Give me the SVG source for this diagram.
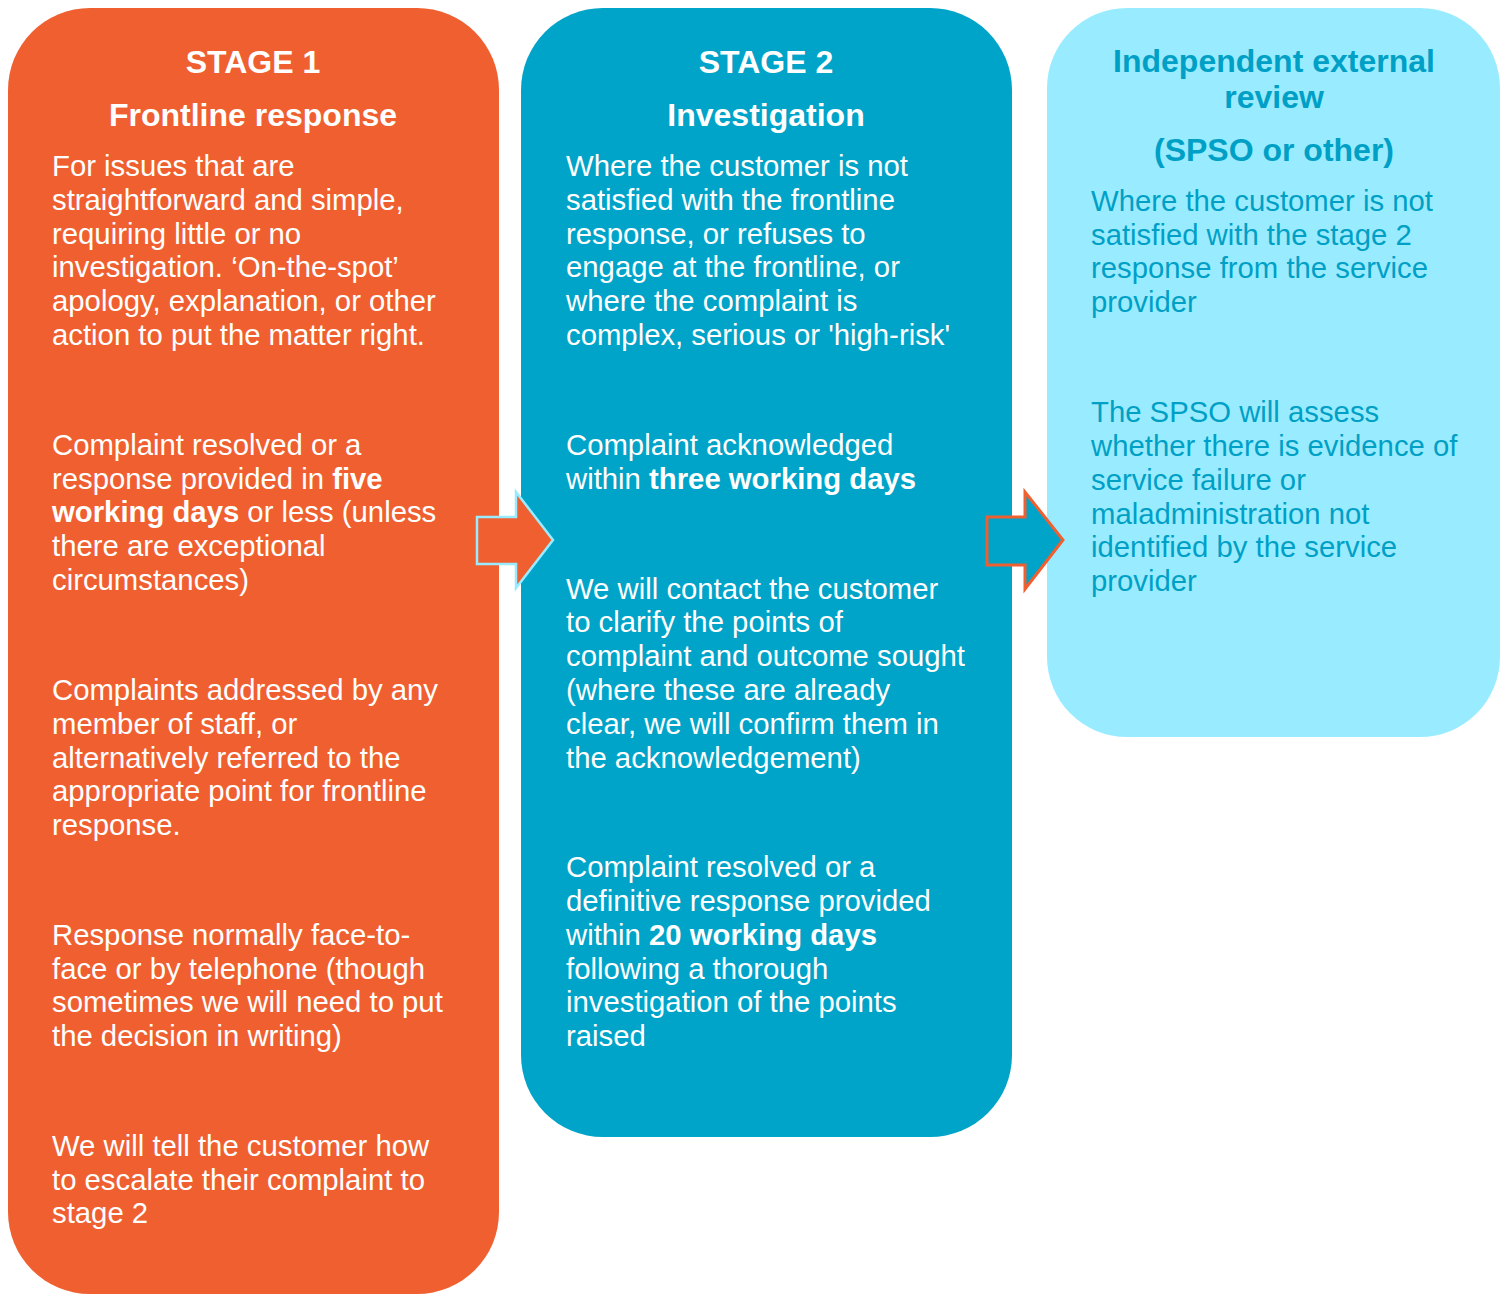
<svg xmlns="http://www.w3.org/2000/svg" width="1500" height="1294" viewBox="0 0 1500 1294">
<style>
.t{font-family:"Liberation Sans",Arial,sans-serif;font-size:29.3px;fill:#ffffff}
.h{font-family:"Liberation Sans",Arial,sans-serif;font-size:32px;font-weight:bold;fill:#ffffff;text-anchor:middle}
.c{fill:#00A0C6}
.b{font-weight:bold}
</style>
<rect width="1500" height="1294" fill="#ffffff"/>
<g id="stage1">
<rect x="8" y="8" width="491" height="1286" rx="82" ry="82" fill="#F05F30"/>
<text class="h" x="253" y="73">STAGE 1</text>
<text class="h" x="253" y="126">Frontline response</text>
<text class="t">
<tspan x="52" y="176">For issues that are</tspan>
<tspan x="52" y="210">straightforward and simple,</tspan>
<tspan x="52" y="244">requiring little or no</tspan>
<tspan x="52" y="277">investigation. ‘On-the-spot’</tspan>
<tspan x="52" y="311">apology, explanation, or other</tspan>
<tspan x="52" y="345">action to put the matter right.</tspan>
<tspan x="52" y="455">Complaint resolved or a</tspan>
<tspan x="52" y="489">response provided in <tspan class="b">five</tspan></tspan>
<tspan x="52" y="522"><tspan class="b">working days</tspan> or less (unless</tspan>
<tspan x="52" y="556">there are exceptional</tspan>
<tspan x="52" y="590">circumstances)</tspan>
<tspan x="52" y="700">Complaints addressed by any</tspan>
<tspan x="52" y="734">member of staff, or</tspan>
<tspan x="52" y="768">alternatively referred to the</tspan>
<tspan x="52" y="801">appropriate point for frontline</tspan>
<tspan x="52" y="835">response.</tspan>
<tspan x="52" y="945">Response normally face-to-</tspan>
<tspan x="52" y="979">face or by telephone (though</tspan>
<tspan x="52" y="1012">sometimes we will need to put</tspan>
<tspan x="52" y="1046">the decision in writing)</tspan>
<tspan x="52" y="1156">We will tell the customer how</tspan>
<tspan x="52" y="1190">to escalate their complaint to</tspan>
<tspan x="52" y="1223">stage 2</tspan>
</text>
</g>
<g id="stage2">
<rect x="521" y="8" width="491" height="1129" rx="82" ry="82" fill="#00A4C8"/>
<text class="h" x="766" y="73">STAGE 2</text>
<text class="h" x="766" y="126">Investigation</text>
<text class="t">
<tspan x="566" y="176">Where the customer is not</tspan>
<tspan x="566" y="210">satisfied with the frontline</tspan>
<tspan x="566" y="244">response, or refuses to</tspan>
<tspan x="566" y="277">engage at the frontline, or</tspan>
<tspan x="566" y="311">where the complaint is</tspan>
<tspan x="566" y="345">complex, serious or 'high-risk'</tspan>
<tspan x="566" y="455">Complaint acknowledged</tspan>
<tspan x="566" y="489">within <tspan class="b">three working days</tspan></tspan>
<tspan x="566" y="599">We will contact the customer</tspan>
<tspan x="566" y="632">to clarify the points of</tspan>
<tspan x="566" y="666">complaint and outcome sought</tspan>
<tspan x="566" y="700">(where these are already</tspan>
<tspan x="566" y="734">clear, we will confirm them in</tspan>
<tspan x="566" y="768">the acknowledgement)</tspan>
<tspan x="566" y="877">Complaint resolved or a</tspan>
<tspan x="566" y="911">definitive response provided</tspan>
<tspan x="566" y="945">within <tspan class="b">20 working days</tspan></tspan>
<tspan x="566" y="979">following a thorough</tspan>
<tspan x="566" y="1012">investigation of the points</tspan>
<tspan x="566" y="1046">raised</tspan>
</text>
</g>
<g id="external">
<rect x="1047" y="8" width="453" height="729" rx="80" ry="80" fill="#99ECFF"/>
<text class="h c" x="1274" y="72">Independent external</text>
<text class="h c" x="1274" y="108">review</text>
<text class="h c" x="1274" y="161">(SPSO or other)</text>
<text class="t c">
<tspan x="1091" y="211">Where the customer is not</tspan>
<tspan x="1091" y="245">satisfied with the stage 2</tspan>
<tspan x="1091" y="278">response from the service</tspan>
<tspan x="1091" y="312">provider</tspan>
<tspan x="1091" y="422">The SPSO will assess</tspan>
<tspan x="1091" y="456">whether there is evidence of</tspan>
<tspan x="1091" y="490">service failure or</tspan>
<tspan x="1091" y="524">maladministration not</tspan>
<tspan x="1091" y="557">identified by the service</tspan>
<tspan x="1091" y="591">provider</tspan>
</text>
</g>
<g id="connectors">
<polygon points="477,517 516,517 516,492 553,540 516,588 516,564 477,564" fill="#F05F30" stroke="#99ECFF" stroke-width="2.5" stroke-linejoin="miter"/>
<polygon points="987,517 1025,517 1025,492 1063,540 1025,589 1025,565 987,565" fill="#00A4C8" stroke="#F05F30" stroke-width="3" stroke-linejoin="miter"/>
</g>
</svg>
